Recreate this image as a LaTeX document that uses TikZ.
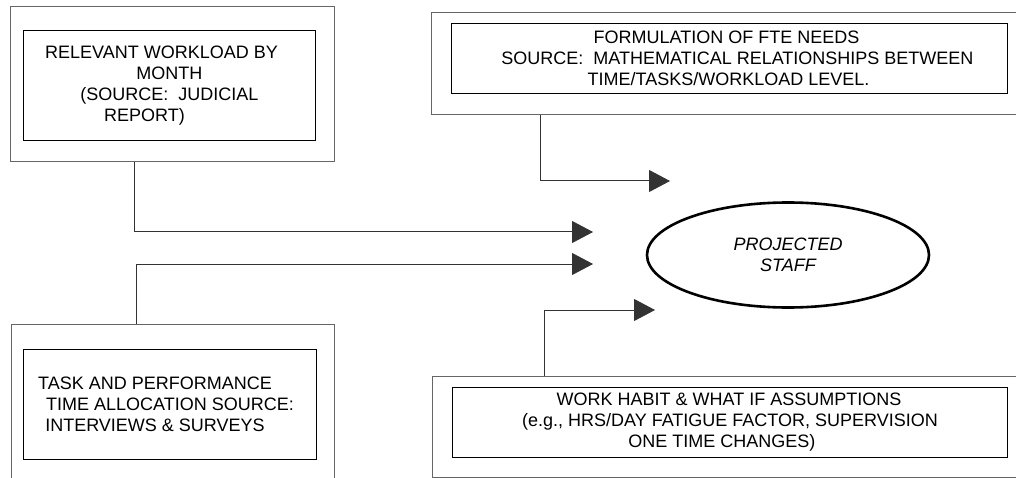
\documentclass[tikz,border=0pt]{standalone}
\usepackage{fontspec}
\setmainfont{Liberation Sans}
\usetikzlibrary{arrows.meta,shapes.geometric}
\begin{document}
\begin{tikzpicture}[x=1pt,y=-1pt,
  outerbox/.style={draw=black!60,line width=1.2pt,inner sep=0pt,anchor=north west},
  innerbox/.style={draw=black,line width=0.9pt,inner sep=0pt,anchor=north west,align=center,
    font=\fontsize{18}{21}\selectfont},
  conn/.style={draw=black!80,line width=1pt,-{Triangle[length=21pt,width=22pt]}},
  goal/.style={ellipse,draw=black,line width=2.6pt,inner sep=0pt,align=center,
    font=\fontsize{18}{21}\selectfont\itshape}]
\useasboundingbox (0,0) rectangle (1016,478);
\clip (0,0) rectangle (1016,478);
% outer boxes
\node[outerbox,minimum width=324,minimum height=155] (tlo) at (10,6) {};
\node[outerbox,minimum width=620,minimum height=102] (tro) at (431,12) {};
\node[outerbox,minimum width=323,minimum height=170] (blo) at (11,324) {};
\node[outerbox,minimum width=620,minimum height=101] (bro) at (432,376) {};
% inner boxes with text
\node[innerbox,minimum width=292,minimum height=110] (tli) at (23,30)
  {RELEVANT WORKLOAD BY\hspace*{16pt}\\MONTH\hspace*{38pt}\\(SOURCE:\ \ JUDICIAL\hspace*{22pt}\\REPORT)\hspace*{50pt}};
\node[innerbox,minimum width=556,minimum height=70] (tri) at (451,23)
  {FORMULATION OF FTE NEEDS\hspace*{6pt}\\\hspace*{16pt}SOURCE:\ \ MATHEMATICAL RELATIONSHIPS BETWEEN\\TIME/TASKS/WORKLOAD LEVEL.\hspace*{2pt}};
\node[innerbox,minimum width=293,minimum height=110] (bli) at (23,349)
  {TASK AND PERFORMANCE\hspace*{30pt}\\TIME ALLOCATION SOURCE:\hspace*{30pt}\\INTERVIEWS \& SURVEYS\hspace*{30pt}};
\node[innerbox,minimum width=555,minimum height=70] (bri) at (452,387)
  {WORK HABIT \& WHAT IF ASSUMPTIONS\hspace*{2pt}\\(e.g., HRS/DAY FATIGUE FACTOR, SUPERVISION\hspace*{60pt}\\ONE TIME CHANGES)\hspace*{16pt}};
% goal
\node[goal,minimum width=282,minimum height=105] (ps) at (788,255) {PROJECTED\\STAFF};
% arrow end points
\coordinate (e1) at (593,232);
\coordinate (e2) at (593,264);
\coordinate (e3) at (670,181);
\coordinate (e4) at (655,310);
% connectors
\draw[conn] (tlo.south west -| 134,0) |- (e1);
\draw[conn] (blo.north west -| 136,0) |- (e2);
\draw[conn] (tro.south west -| 540,0) |- (e3);
\draw[conn] (bro.north west -| 544,0) |- (e4);
\end{tikzpicture}
\end{document}
